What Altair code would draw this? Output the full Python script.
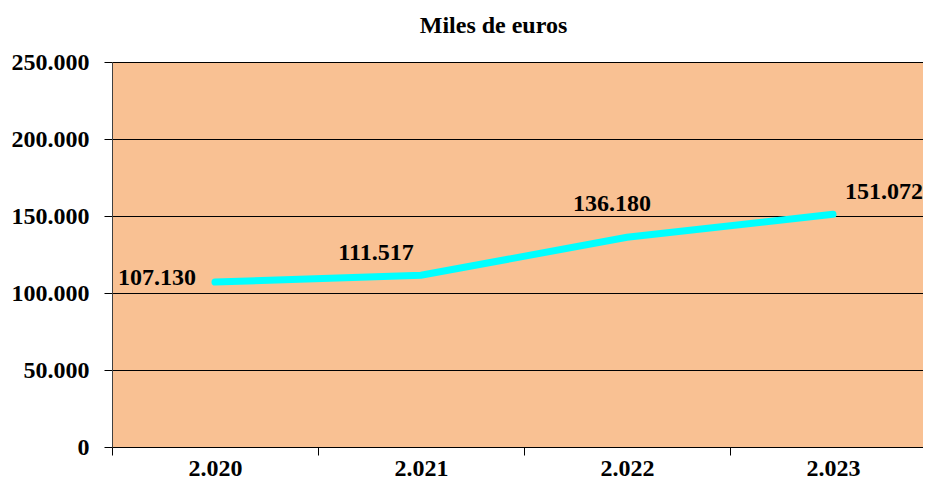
import altair as alt
import pandas as pd

years = ["2.020", "2.021", "2.022", "2.023"]
values = [107130, 111517, 136180, 151072]
labels = ["107.130", "111.517", "136.180", "151.072"]

df = pd.DataFrame({"year": years, "value": values, "label": labels})

FONT = "Liberation Serif"

x_enc = alt.X("year:N", sort=years, bandPosition=0.5,
              scale=alt.Scale(type="band", paddingInner=0, paddingOuter=0, range=[0, 824]),
              axis=alt.Axis(title=None, labelAngle=0, tickBand="extent",
                            tickSize=8, labelPadding=1, domainColor="black",
                            tickColor="black", labelFont=FONT, labelFontSize=24,
                            labelFontWeight="bold", labelColor="black", grid=False))
y_enc = alt.Y("value:Q", scale=alt.Scale(domain=[0, 250000]),
              axis=alt.Axis(title=None, values=[0, 50000, 100000, 150000, 200000, 250000],
                            labelExpr="replace(format(datum.value, ','), ',', '.')",
                            tickSize=8, labelPadding=15, domainColor="#404040",
                            tickColor="black", gridColor="black", gridOpacity=1,
                            gridWidth=1, labelFont=FONT, labelFontSize=24,
                            labelFontWeight="bold", labelColor="black"))

base = alt.Chart(df)
line = base.mark_line(color="#00FFFF", strokeWidth=7, strokeCap="round").encode(x=x_enc, y=y_enc)

offsets = [(-58, -4), (-45, -22), (-15, -33), (51, -22)]
texts = []
for yr, (dx, dy) in zip(years, offsets):
    texts.append(
        base.transform_filter(alt.datum.year == yr).mark_text(
            font=FONT, fontSize=24, fontWeight="bold", color="black",
            dx=dx, dy=dy, baseline="middle", align="center"
        ).encode(x=x_enc, y=y_enc, text="label:N")
    )

chart = alt.layer(line, *texts).properties(
    width=811, height=385,
    autosize=alt.AutoSizeParams(type="none"),
    padding={"left": 104, "top": 54, "right": 0, "bottom": 33},
    title=alt.TitleParams("Miles de euros", font=FONT, fontSize=24, fontWeight="bold",
                          color="black", offset=12, anchor="middle", dx=-24),
    background="white",
).configure_view(fill="#F9C193", stroke=None)

chart.save("out.html", embed_options={"renderer": "svg", "actions": False})
